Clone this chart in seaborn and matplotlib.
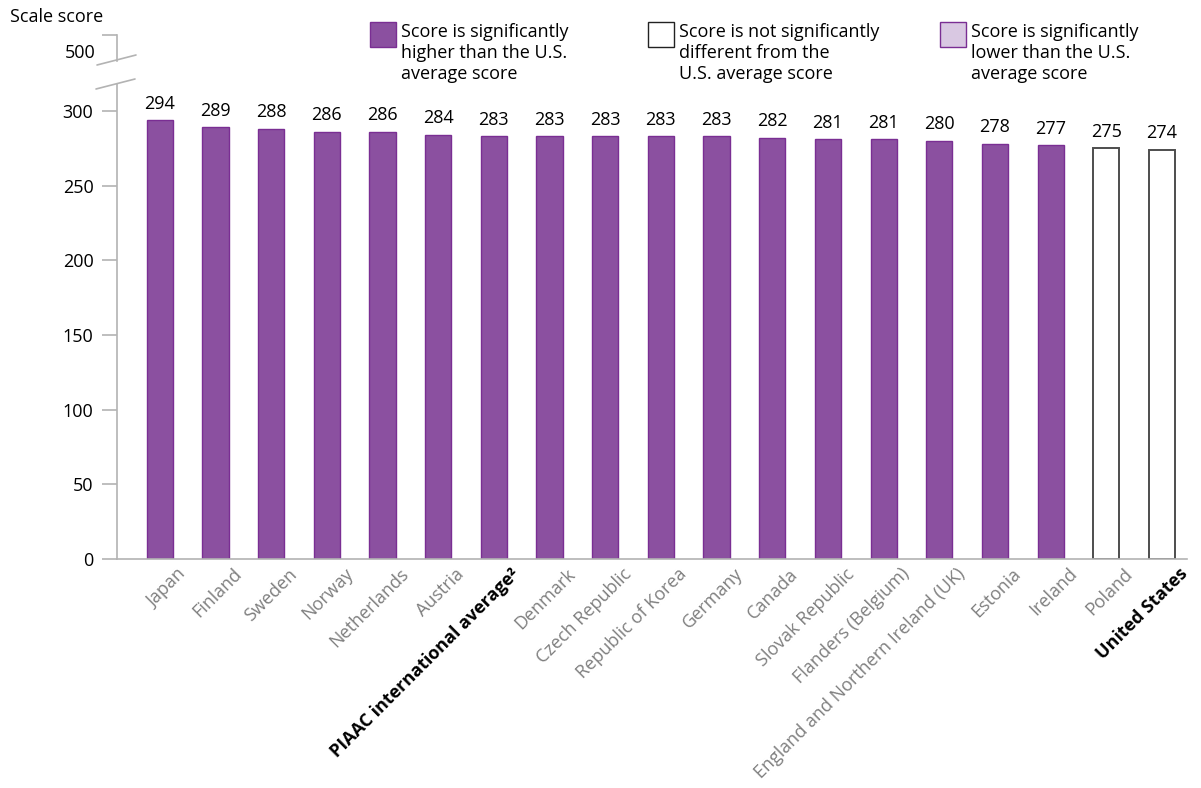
import matplotlib
matplotlib.use("Agg")
import matplotlib.pyplot as plt
import seaborn as sns
import pandas as pd
from matplotlib.patches import Rectangle
from matplotlib.lines import Line2D
import matplotlib.transforms as mtransforms

countries = ["Japan", "Finland", "Sweden", "Norway", "Netherlands", "Austria",
             "PIAAC international average²", "Denmark", "Czech Republic",
             "Republic of Korea", "Germany", "Canada", "Slovak Republic",
             "Flanders (Belgium)", "England and Northern Ireland (UK)",
             "Estonia", "Ireland", "Poland", "United States"]
scores = [294, 289, 288, 286, 286, 284, 283, 283, 283, 283, 283, 282, 281,
          281, 280, 278, 277, 275, 274]
status = ["higher"] * 17 + ["not different"] * 2
bold_labels = ["PIAAC international average²", "United States"]
legend_labels = ["Score is significantly\nhigher than the U.S.\naverage score",
                 "Score is not significantly\ndifferent from the\nU.S. average score",
                 "Score is significantly\nlower than the U.S.\naverage score"]
yticks_main = [0, 50, 100, 150, 200, 250, 300]

PURPLE = "#8B50A0"
PURPLE_EDGE = "#7A2E93"
LIGHT = "#D9C8E2"
fills = {"higher": PURPLE, "not different": "white", "lower": LIGHT}
edges = {"higher": PURPLE_EDGE, "not different": "#4d4d4d", "lower": PURPLE_EDGE}

sns.set_theme(style="white")
plt.rcParams["font.family"] = ["Open Sans", "DejaVu Sans"]

W, H = 1201, 788
fig = plt.figure(figsize=(W / 100, H / 100), dpi=100)

def fx(px):
    return px / W

def fy(py):
    return 1 - py / H

FS = 13

# Main axes
left, right, top, bottom = 117, 1187, 84, 559
ax = fig.add_axes([fx(left), fy(bottom), fx(right - left), (bottom - top) / H])
df = pd.DataFrame({"country": countries, "score": scores, "status": status})
sns.barplot(data=df, x="country", y="score", hue="status", palette=fills,
            dodge=False, width=0.47, legend=False, ax=ax, order=countries,
            saturation=1)
levels = [l for l in ["higher", "not different", "lower"] if l in status]
for cont, lvl in zip(ax.containers, levels):
    for p in cont:
        p.set_edgecolor(edges[lvl])
        p.set_linewidth(1.4 if lvl == "not different" else 1.0)

ax.set_ylim(0, (bottom - top) / 1.4933)
ax.set_xlim(-0.77, len(countries) - 0.55)
ax.set_yticks(yticks_main)
ax.set_yticklabels([str(v) for v in yticks_main], fontsize=FS, color="black")
ax.set_xlabel("")
ax.set_ylabel("")
for s in ["top", "right"]:
    ax.spines[s].set_visible(False)
ax.spines["left"].set_color("#b3b3b3")
ax.spines["bottom"].set_color("#b3b3b3")
ax.spines["left"].set_linewidth(1.2)
ax.spines["bottom"].set_linewidth(1.2)
ax.tick_params(axis="y", length=11, width=1.2, color="#b3b3b3", pad=6, left=True)
ax.tick_params(axis="x", length=0)

# value labels
for i, v in enumerate(scores):
    ax.text(i, v + 5, str(v), ha="center", va="bottom", fontsize=FS, color="black")

# x tick labels
ax.set_xticks(range(len(countries)))
ax.set_xticklabels(countries)
offset = mtransforms.ScaledTranslation(17 / 100, -1 / 100, fig.dpi_scale_trans)
for lab in ax.get_xticklabels():
    lab.set_rotation(45)
    lab.set_ha("right")
    lab.set_va("top")
    lab.set_rotation_mode("anchor")
    lab.set_fontsize(13)
    lab.set_transform(lab.get_transform() + offset)
    if lab.get_text() in bold_labels:
        lab.set_fontweight("bold")
        lab.set_color("black")
    else:
        lab.set_color("#7f7f7f")

# top (broken) axis segment
ax2 = fig.add_axes([fx(left), fy(61), 0.001, (61 - 35) / H])
ax2.set_ylim(0, 1)
ax2.set_xticks([])
ax2.set_yticks([1])
ax2.set_yticklabels([""])
for s in ["top", "right", "bottom"]:
    ax2.spines[s].set_visible(False)
ax2.spines["left"].set_color("#b3b3b3")
ax2.spines["left"].set_linewidth(1.2)
ax2.tick_params(axis="y", length=11, width=1.2, color="#b3b3b3", left=True)
ax2.patch.set_alpha(0)
fig.text(fx(96), fy(53), "500", ha="right", va="center", fontsize=FS, color="black")

# break marks
for (x0, y0, x1, y1) in [(97, 65, 136, 55), (96, 89, 135, 79)]:
    fig.add_artist(Line2D([fx(x0), fx(x1)], [fy(y0), fy(y1)], color="#b3b3b3", lw=1.2))

fig.text(fx(10), fy(17), "Scale score", ha="left", va="center", fontsize=FS, color="black")

# legend
leg_boxes = [(370, "higher"), (648, "not different"), (940, "lower")]
for (bx, lvl), txt in zip(leg_boxes, legend_labels):
    fig.add_artist(Rectangle((fx(bx), fy(47)), fx(26), 25 / H, facecolor=fills[lvl],
                             edgecolor=edges[lvl] if lvl != "not different" else "#222222",
                             lw=1.0, transform=fig.transFigure))
    fig.text(fx(bx + 31), fy(23), txt, ha="left", va="top", fontsize=FS,
             color="black", linespacing=1.2)

fig.savefig("out.png", dpi=100)
